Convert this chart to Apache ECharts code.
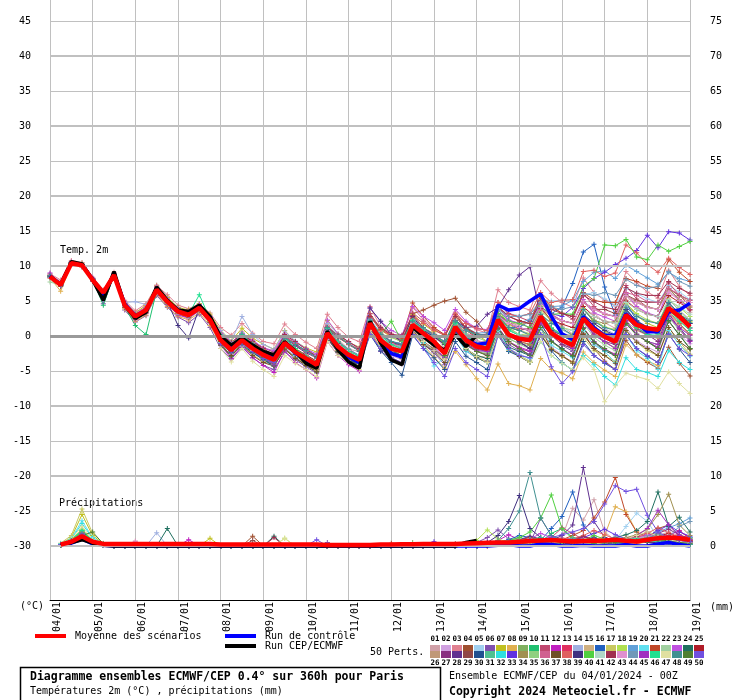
<!DOCTYPE html>
<html><head><meta charset="utf-8">
<script src="https://cdn.jsdelivr.net/npm/echarts@6/dist/echarts.min.js"></script>
<style>html,body{margin:0;padding:0;background:#fff}#c{width:740px;height:700px}</style>
</head><body><div id="c"></div>
<script>
const days = ['04/01','05/01','06/01','07/01','08/01','09/01','10/01','11/01','12/01','13/01','14/01','15/01','16/01','17/01','18/01','19/01'];
const runs = ['00Z','06Z','12Z','18Z'];
const memberColors = ['#d0a0a8','#d0a0e0','#e08090','#a05030','#a0d0f0','#8050b0','#c0c020','#e0b050','#80b060','#20c070','#c04870','#c020c0','#e03060','#a0b0e0','#d0b080','#2060c0','#c8c860','#b0e050','#60a0d8','#60e0f0','#c04828','#a0d0a0','#c050e0','#207060','#b01c28',
'#c09878','#883080','#603090','#904848','#205090','#50c090','#30e0e0','#6030e0','#a09050','#90d080','#d06090','#705028','#e06060','#403080','#50d040','#b0d8c8','#a03050','#e090d0','#7098b8','#a030c0','#20e090','#e0e0a0','#409090','#508030','#7050e0'];

// 2m temperature, 6-hourly 0h..360h
const meanTemp = [8.5,7.3,10.4,10.1,8.0,6.2,8.7,4.4,2.8,3.7,6.6,4.9,3.5,3.0,4.0,2.3,-0.6,-2.0,-0.6,-1.8,-2.7,-3.4,-1.0,-2.3,-3.2,-4.1,0.4,-1.5,-2.7,-3.4,1.8,-0.6,-1.8,-2.2,1.6,0.4,-0.8,-2.5,1.3,-0.6,-1.5,-1.8,2.3,0.2,-0.4,-0.6,2.8,0.4,-0.6,-1.3,2.5,0.9,-0.1,-0.8,3.0,1.6,1.1,0.9,4.0,2.8,1.3];
const ctrlTemp = [8.6,7.4,10.5,10.2,8.1,5.8,8.9,4.6,2.9,3.6,6.8,5.0,3.6,3.2,4.2,2.5,-0.4,-1.8,-0.5,-1.6,-2.5,-3.1,-1.0,-2.4,-3.5,-4.3,0.5,-1.7,-3.0,-3.8,1.9,-0.8,-2.5,-3.0,1.5,0.2,-1.0,-2.2,1.0,-0.5,-1.2,-1.0,4.4,3.7,3.9,5.0,6.0,2.8,0.3,-0.5,2.8,1.2,0.1,0.1,3.2,1.8,0.6,0.6,3.5,3.7,4.7];
const mainTemp = [8.5,7.3,10.6,10.3,8.0,5.1,9.2,4.4,2.5,3.4,7.0,5.1,3.7,3.5,4.4,2.8,-0.1,-1.3,-0.3,-1.3,-2.2,-2.7,-0.8,-2.2,-3.9,-4.6,0.7,-2.0,-3.7,-4.6,2.1,-1.0,-3.4,-4.1,1.3,-0.1,-1.3,-2.0,0.2,-1.5,0.1];

// precipitation (mm), 6-hourly 6h..360h
const meanPrecip = [0.2,0.6,1.4,0.6,0.3, 0.3,0.3,0.3,0.3,0.3,0.3,0.3,0.3, 0.3,0.3,0.2,0.2,0.2,0.2,0.2,0.2, 0.2,0.2,0.2,0.2,0.15,0.15,0.15,0.15, 0.15,0.2,0.2,0.25,0.25,0.3,0.3,0.3, 0.3,0.35,0.4,0.45,0.5,0.5,0.6,0.7,0.8,0.85,0.75,0.65,0.7,0.75,0.8,0.9,0.75,0.65,0.9,1.1,1.2,1.1,0.9];
const ctrlPrecip = [0.1,0.4,1.0,0.3,0.1, 0,0,0,0,0,0,0,0, 0,0,0,0,0,0,0,0, 0,0,0,0,0,0,0,0, 0,0,0,0,0,0,0,0, 0,0,0,0,0.1,0.2,0,0,0.3,0.2,0,0,0.1,0,0,0,0.2,0,0,0.3,0.5,0.2,0];
const mainPrecip = [0.1,0.5,0.9,0.4,0.1, 0,0,0,0,0,0,0,0, 0,0,0,0,0,0,0,0, 0,0,0,0,0,0,0,0, 0,0,0,0,0,0,0,0, 0,0.5,0.8];

const tempMembers = [
[8.7,7.5,10.6,10.3,8.2,6.4,8.9, 4.9,3.4,4.1,7.3,5.6,3.9,3.6,4.3,2.9, 0.3,-1.2,0.6,-0.9,-1.6,-2.4,0.2,-1.4,-2.1,-3.3,1.6,-0.4,-1.9,-2.2, 3.1,0.6,-0.8,-1.2,3.3,1.1,0.4,-1.8,2.4,0.3,-0.7,-0.9, 4.1,2.2,1.3,0.6,5.2,2.6,1.4,0.3,4.8,3.3,1.9,1.1,5.8,4.1,3.2,2.7,6.4,5.2,3.4],
[8.3,7.1,10.2,9.9,7.8,6.0,8.5, 4.0,2.2,3.3,6.0,4.4,3.1,2.4,3.6,1.8, -1.4,-2.6,-1.5,-2.4,-3.3,-4.1,-1.7,-2.9,-3.8,-4.7,-0.5,-1.9,-3.3,-3.6, 0.9,-1.7,-2.8,-3.4,0.6,-0.9,-2.2,-3.3,0.2,-1.8,-2.9,-3.1, 0.4,-1.8,-2.6,-3.2,1.1,-1.6,-2.7,-3.8,0.3,-1.2,-2.1,-2.8,1.2,-0.7,-1.6,-2.3,2.1,0.2,-1.1],
[8.9,8.0,10.8,10.5,8.4,6.6,9.1, 5.1,3.6,4.6,7.2,5.9,4.4,3.9,4.6,3.3, 1.2,0.1,1.8,0.4,-0.8,-1.1,1.7,0.2,-0.9,-1.8,3.1,1.2,-0.2,-0.8, 4.2,1.3,0.4,-0.3,4.1,2.3,1.2,0.1,3.4,1.8,0.9,0.4, 6.6,4.8,4.2,3.7,7.9,6.1,4.8,4.1,8.3,6.2,5.1,4.3,9.2,7.6,6.3,5.4,9.4,7.1,5.8],
[8.5,7.3,10.4,10.1,8.0,6.2,8.7, 4.1,2.5,3.3,6.3,4.6,3.2,2.7,3.8,2.0, -0.9,-2.4,-0.2,-2.1,-3.0,-3.3,-1.2,-2.6,-3.3,-4.3,0.8,-1.1,-2.3,-2.9, 2.3,0.1,-1.2,-1.1,3.2,3.7,4.4,5.0,5.4,3.4,2.1,0.2, 2.8,-0.8,-1.7,-2.8,1.2,-1.9,-2.9,-3.7,0.4,-1.8,-3.6,-4.8,-0.6,-2.7,-3.8,-4.6,-1.6,-3.9,-5.7],
[8.6,7.4,10.5,10.0,7.9,6.1,8.8, 4.7,3.1,4.0,6.9,5.2,3.8,3.3,4.4,2.6, 0.2,-1.6,0.3,-1.0,-2.2,-2.8,-0.3,-1.9,-2.8,-3.7,0.9,-0.8,-2.1,-2.7, 2.2,-0.1,-1.2,-1.7,2.3,0.9,-0.2,-1.3,2.1,0.8,0.1,0.3, 3.9,3.2,2.9,3.1,5.2,5.0,5.1,5.1,5.9,6.2,5.3,4.4,6.8,6.1,5.3,4.8,7.2,6.3,5.2],
[8.4,7.2,10.3,10.0,7.9,4.6,8.6, 3.7,2.0,2.9,5.8,4.1,2.7,1.9,3.1,1.2, -1.8,-3.3,-1.6,-3.1,-4.2,-4.8,-2.3,-3.4,-4.4,-5.3,-0.4,-2.4,-3.5,-4.4, 0.8,-2.2,-3.2,-4.0,0.3,-1.2,-2.4,-4.1,0.1,-2.1,-3.2,-3.6, 1.2,-1.2,-2.1,-2.6,2.1,0.2,-1.3,-2.2,2.7,0.8,-0.3,-1.2,3.8,2.1,1.2,0.8,4.3,2.6,1.1],
[8.7,7.6,10.6,10.4,8.1,6.4,8.8, 4.9,3.3,4.4,7.1,5.5,4.1,3.7,4.6,3.1, 0.8,-0.7,1.1,-0.3,-1.2,-1.9,0.8,-0.8,-1.7,-2.3,2.2,0.3,-0.9,-1.6, 3.2,0.9,-0.2,-0.8,3.1,1.7,0.6,-1.2,2.8,1.1,0.2,-0.8, 3.8,1.7,0.8,0.3,4.3,2.1,0.9,0.2,4.2,1.8,0.7,-0.2,4.8,2.9,1.8,1.2,5.3,3.6,2.1],
[8.3,6.4,10.2,9.9,7.8,5.9,8.5, 3.9,2.1,3.0,6.0,4.2,2.8,2.3,3.3,1.5, -1.2,-2.8,-1.1,-2.7,-3.6,-4.3,-1.8,-3.1,-4.0,-5.1,-0.3,-2.2,-3.4,-4.1, 0.9,-1.8,-3.1,-3.8,0.4,-1.3,-3.0,-4.6,-2.2,-4.1,-6.1,-7.7, -4.0,-6.8,-7.1,-7.7,-3.2,-4.8,-5.3,-6.1,-2.3,-3.8,-4.9,-5.8,-1.2,-2.7,-3.6,-4.2,0.8,-1.2,-2.8],
[8.6,7.2,10.5,10.2,8.1,6.3,8.7, 4.6,2.9,3.6,6.4,5.0,3.3,3.1,4.2,2.1, -0.8,-2.3,-0.2,-2.2,-3.1,-3.8,-1.3,-2.4,-3.3,-4.4,0.1,-1.8,-3.1,-3.8, 1.7,-0.8,-2.2,-2.4,1.6,0.2,-1.2,-2.8,0.8,-1.3,-2.2,-2.6, 2.0,-0.4,-1.1,-1.4,2.6,0.7,-0.2,-1.3,2.2,0.2,-0.9,-1.7,2.6,1.1,0.2,-0.3,3.6,1.8,0.3],
[8.4,7.4,10.3,10.0,8.0,4.4,8.8, 4.2,1.5,0.2,6.5,5.1,3.7,3.2,4.4,2.6, 0.1,-1.3,0.4,-1.1,-2.1,-2.9,-0.8,-1.9,-2.8,-3.6,0.9,-0.9,-2.2,-2.9, 2.3,0.2,-1.1,-1.8,2.1,0.8,-0.9,-2.1,1.9,-0.1,-1.2,-1.3, 2.7,0.9,0.1,-0.2,3.2,1.1,0.2,-0.9,3.1,1.3,0.3,-0.8,3.3,2.0,1.2,0.8,4.2,3.1,1.9],
[8.5,7.5,10.4,10.2,8.2,6.4,8.9, 4.8,3.1,4.1,7.0,5.3,4.0,3.3,4.4,2.7, 0.4,-0.9,0.3,-0.7,-1.7,-2.3,0.1,-1.1,-2.2,-2.8,1.4,0.1,-1.2,-1.9, 3.2,1.1,0.2,-0.6,3.3,2.1,0.9,0.1,3.1,1.8,1.1,0.8, 4.8,3.2,2.7,2.1,5.8,4.1,3.3,2.4,6.1,4.2,3.1,2.8,7.2,5.3,4.1,3.8,7.6,5.8,4.3],
[8.5,7.1,10.3,10.0,7.8,6.0,8.6, 4.1,2.4,3.3,6.2,4.5,3.0,2.6,3.6,1.9, -1.3,-3.2,-1.4,-3.1,-4.2,-5.2,-2.1,-3.8,-4.8,-6.0,-0.8,-2.8,-4.1,-5.0, 0.9,-1.2,-2.3,-3.1,1.1,-0.3,-1.4,-3.2,0.2,-1.3,-2.2,-2.7, 1.3,-0.8,-1.6,-2.1,1.8,-0.7,-1.8,-2.7,1.2,-0.8,-1.9,-2.6,2.1,0.3,-0.8,-1.6,2.8,0.9,-0.8],
[8.6,7.3,10.5,10.1,8.1,6.3,8.7, 4.6,2.7,3.5,6.7,5.0,3.6,2.9,4.1,2.1, -0.7,-2.3,-0.3,-2.1,-2.9,-3.2,-1.1,-2.1,-3.2,-4.2,0.7,-1.2,-2.8,-3.3, 2.1,-0.3,-1.9,-2.3,1.8,0.1,-1.1,-2.2,1.1,-0.8,-1.8,-2.1, 1.8,0.1,-0.8,-1.2,2.3,0.2,-0.7,-1.6,2.8,0.8,0.1,-0.7,3.2,1.2,0.3,-0.2,3.3,1.7,0.2],
[8.6,7.4,10.4,10.2,8.1,6.3,8.8, 4.8,4.9,4.5,6.8,5.3,3.9,3.4,4.3,2.6, 0.8,-0.8,2.8,0.2,-1.2,-1.9,0.7,-0.7,-1.8,-2.8,1.8,0.2,-1.3,-2.1, 2.4,0.1,-0.9,-1.3,2.2,1.0,-0.2,-1.1,1.8,0.3,-0.8,-0.9, 3.2,1.3,0.8,0.2,3.1,1.8,0.9,0.1,3.8,2.2,1.1,0.2,4.3,2.9,2.2,1.8,5.2,3.7,2.3],
[8.4,7.2,10.3,10.0,7.9,6.1,8.6, 4.1,2.5,3.4,6.4,4.6,3.2,2.7,3.7,1.9, -1.2,-2.9,-1.2,-2.3,-3.4,-4.2,-1.9,-3.1,-4.1,-4.9,-0.2,-2.1,-3.2,-4.1, 1.1,-1.1,-2.3,-3.1,0.9,-0.8,-2.1,-3.3,0.2,-1.8,-2.8,-3.1, 1.2,-0.9,-1.8,-2.2,1.9,0.1,-1.2,-1.9,2.1,0.2,-0.8,-1.8,2.2,0.8,0.1,-0.2,3.1,1.6,0.1],
[8.5,7.4,10.4,10.1,8.1,6.2,8.8, 4.5,2.9,3.8,6.7,5.0,3.6,3.1,4.1,2.4, -0.5,-2.1,-0.4,-1.9,-2.8,-3.2,-1.1,-2.2,-3.1,-3.9,0.3,-1.2,-2.6,-3.1, 1.9,-0.7,-1.9,-2.2,1.8,0.3,-0.9,-2.1,1.2,-0.7,-1.2,-1.6, 2.8,1.2,1.3,2.1,4.8,3.2,4.1,7.5,12.0,13.1,7.0,3.0,4.8,2.2,1.3,0.4,2.8,1.2,-0.6],
[8.6,7.3,10.5,10.1,8.0,6.2,8.7, 4.5,2.7,3.5,6.4,4.7,3.3,2.8,3.8,2.1, -1.1,-2.4,-1.0,-2.4,-3.3,-4.1,-1.4,-2.6,-3.9,-4.8,-0.2,-2.1,-3.1,-4.0, 1.2,-1.1,-2.4,-2.9,1.1,-0.7,-2.1,-3.2,0.1,-1.9,-2.9,-3.7, 0.2,-2.1,-2.8,-3.6,0.3,-1.8,-2.9,-3.8,-0.2,-2.1,-2.8,-3.6,0.8,-0.9,-2.1,-2.8,1.2,-0.8,-2.6],
[8.4,7.3,10.3,10.1,8.0,6.2,8.7, 4.4,3.0,3.9,6.8,5.2,3.8,3.3,4.2,2.5, 0.2,-1.6,0.2,-1.2,-2.1,-2.8,-0.7,-1.9,-2.8,-3.6,1.1,-0.8,-2.1,-2.8, 2.2,0.1,-1.1,-1.7,2.4,0.8,-0.6,-1.8,2.1,0.3,-0.8,-1.2, 3.1,1.2,0.2,0.3,3.7,2.1,1.2,0.8,3.9,2.3,1.3,0.9,4.7,3.2,2.3,1.8,5.1,4.1,2.8],
[8.5,7.2,10.4,10.1,8.0,6.2,8.7, 4.3,2.7,3.7,6.5,4.8,3.4,3.0,3.9,2.2, -0.7,-1.9,-0.8,-2.0,-2.6,-3.1,-0.8,-2.1,-2.9,-3.8,0.8,-1.1,-2.3,-3.0, 2.4,0.4,-0.8,-1.6,2.3,1.1,0.1,-1.2,2.1,1.2,0.4,0.5, 3.7,2.2,1.8,2.4,5.1,4.2,4.3,5.1,7.8,9.1,9.3,8.2,10.1,9.2,8.3,7.4,9.1,8.2,7.8],
[8.5,7.3,10.4,10.0,7.9,6.1,8.7, 4.2,2.6,3.6,6.4,4.8,3.3,2.9,3.8,2.1, -1.1,-2.4,-1.3,-2.4,-3.4,-4.3,-1.3,-2.8,-3.9,-4.8,-0.3,-2.2,-3.4,-4.3, 1.2,-1.3,-2.3,-3.2,0.9,-1.1,-4.3,-3.1,0.1,-2.2,-3.1,-3.8, 0.8,-1.8,-2.7,-3.2,1.1,-1.3,-2.2,-3.1,0.8,-1.3,-2.2,-3.8,0.2,-2.1,-3.2,-4.8,0.8,-1.2,-2.9],
[8.6,7.4,10.5,10.2,8.1,6.3,8.8, 4.6,3.0,3.9,6.8,5.1,3.7,3.2,4.2,2.5, 0.1,-1.2,0.2,-0.8,-1.9,-2.7,-0.2,-1.3,-2.2,-3.1,1.2,-0.2,-1.2,-2.1, 2.8,0.9,0.1,-0.3,4.7,2.8,1.2,0.2,3.1,1.2,0.3,0.1, 4.2,2.8,2.1,1.8,5.8,4.3,3.2,2.8,6.2,5.1,4.8,4.8,8.2,7.8,7.1,6.8,10.9,9.1,7.8],
[7.7,7.3,10.5,10.1,8.1,6.2,8.7, 4.5,2.8,3.8,6.6,4.9,3.5,3.0,4.0,2.3, -0.4,-2.1,0.1,-1.9,-2.8,-3.3,-0.9,-2.3,-3.2,-3.9,-0.1,-1.4,-2.4,-3.3, 1.6,-0.9,-2.1,-2.3,1.2,-0.1,-1.3,-2.3,0.8,-1.1,-2.2,-2.4, 1.8,-0.2,-1.2,-1.8,2.1,0.1,-0.8,-1.9,1.8,-0.2,-1.3,-2.1,2.2,0.3,-0.8,-1.2,2.7,0.8,-0.3],
[8.7,7.5,10.6,10.3,8.3,6.4,8.9, 4.9,3.2,4.1,7.0,5.3,3.9,3.5,4.5,2.8, 0.4,-0.9,0.4,-0.6,-1.7,-2.1,0.3,-0.9,-1.8,-2.6,2.3,0.3,-0.9,-1.7, 4.0,2.1,0.8,0.1,4.2,2.8,1.9,0.8,3.8,2.1,1.1,0.9, 4.3,2.3,1.8,1.2,4.8,3.1,2.2,1.8,5.2,3.3,2.7,2.1,6.1,4.2,3.3,2.8,6.8,5.1,3.8],
[8.4,7.2,10.2,10.0,7.9,6.1,8.6, 4.2,2.5,3.5,6.4,4.7,3.3,2.8,3.8,2.0, -1.3,-2.9,-1.2,-2.4,-3.3,-4.2,-1.8,-3.1,-4.2,-5.1,-0.1,-2.2,-3.3,-4.2, 1.2,-1.2,-2.1,-3.1,1.2,-0.9,-2.2,-3.1,0.3,-1.9,-2.8,-3.2, 1.1,-1.6,-2.2,-2.8,1.8,-0.7,-1.8,-2.9,1.1,-0.9,-2.1,-2.8,1.8,0.2,-0.8,-1.8,2.2,0.1,-1.8],
[8.5,7.4,10.4,10.2,8.1,6.3,8.8, 4.6,3.0,3.9,6.8,5.0,3.6,3.1,4.1,2.4, -0.1,-1.7,0.2,-1.3,-2.3,-3.1,-0.2,-1.8,-2.7,-3.6,1.1,-0.9,-2.2,-2.8, 2.1,0.3,-0.9,-1.3,2.1,0.9,-0.1,-1.2,2.2,0.8,-0.2,0.1, 3.2,1.8,1.1,0.8,3.9,2.3,1.7,1.2,4.2,2.8,2.1,1.8,5.1,3.8,3.1,2.8,5.8,4.8,3.7],
[8.3,7.1,10.2,9.9,7.8,6.0,8.5, 4.2,2.5,3.4,6.4,4.7,3.3,2.8,3.8,2.1, -0.8,-2.2,-0.9,-2.1,-3.0,-3.9,-1.2,-2.4,-3.4,-4.2,0.7,-1.2,-2.4,-3.1, 1.9,-0.2,-1.3,-2.1,1.8,0.3,-1.1,-2.2,1.4,0.1,-0.9,-0.8, 2.9,1.8,1.7,1.9,4.1,2.8,2.1,1.9,4.8,3.8,3.1,2.8,5.8,4.9,4.2,3.8,6.8,5.7,4.8],
[8.6,7.4,10.5,10.2,8.1,6.3,8.8, 4.5,2.7,3.6,6.5,4.8,3.4,2.9,3.9,2.2, -0.9,-2.3,-0.1,-2.2,-3.1,-3.9,-1.1,-2.6,-3.4,-4.4,0.2,-1.9,-3.1,-3.9, 1.3,-1.2,-2.1,-2.8,1.1,-0.8,-1.9,-3.1,0.9,-1.1,-1.9,-2.2, 1.8,0.2,-0.9,-1.8,2.1,0.1,-1.2,-1.8,2.2,0.3,-0.8,-1.2,2.8,0.9,0.2,-0.8,3.2,1.1,-0.6],
[8.5,7.3,10.4,10.1,8.0,6.2,8.7, 4.6,3.0,3.8,6.7,5.0,3.6,3.1,4.1,2.5, -0.2,-1.3,-0.1,-1.2,-2.2,-2.9,-0.3,-1.4,-2.4,-3.1,0.9,-0.2,-1.1,-2.2, 2.2,0.1,-1.1,-1.1,2.1,0.9,-0.1,-1.1,2.2,1.2,1.4,3.1, 4.1,6.6,8.7,9.9,2.8,1.1,0.1,-0.8,2.9,1.2,0.2,-0.7,3.8,2.1,1.2,0.8,4.7,3.1,1.8],
[8.4,7.2,10.3,10.0,7.9,6.1,8.6, 4.3,2.6,3.5,6.3,4.7,3.3,2.8,3.8,2.1, -0.8,-2.2,-0.7,-1.9,-2.9,-3.8,-1.1,-2.1,-3.1,-3.9,0.3,-1.2,-2.1,-3.2, 1.9,0.1,-1.2,-1.8,2.2,0.8,-0.7,-2.1,1.8,0.1,-0.8,-1.2, 2.8,1.2,0.8,1.1,4.1,2.8,2.2,1.8,4.9,3.8,3.8,3.2,5.9,5.1,4.8,4.8,6.8,5.8,5.1],
[8.6,7.3,10.4,10.2,8.1,6.2,8.8, 4.4,2.8,3.6,6.6,4.9,3.4,2.9,3.9,2.2, -1.1,-2.4,-0.2,-2.3,-3.4,-4.3,-1.4,-2.6,-3.6,-4.4,-0.3,-2.3,-3.4,-4.3, 0.2,-2.1,-3.8,-5.6,0.1,-1.8,-3.1,-4.8,-0.8,-2.9,-3.8,-4.8, 0.1,-2.2,-2.9,-3.8,0.2,-2.1,-3.8,-4.9,-0.8,-2.8,-3.9,-4.8,0.2,-1.8,-2.9,-3.8,0.3,-1.9,-3.8],
[8.5,7.4,10.4,10.1,8.0,6.3,8.7, 4.5,3.1,3.9,6.8,5.0,3.5,3.0,4.1,2.4, 0.1,-1.8,-0.2,-1.7,-2.8,-3.1,-0.9,-2.1,-3.1,-3.9,0.8,-1.2,-2.2,-3.1, 2.1,-0.2,-1.3,-2.1,1.9,0.2,-1.1,-2.2,1.2,0.1,-0.9,-1.1, 2.2,0.8,0.2,-0.1,3.1,1.2,0.1,-0.2,2.9,1.1,0.2,-0.3,3.8,2.1,1.1,0.8,4.2,2.8,1.2],
[8.5,7.2,10.3,10.0,7.9,6.1,8.7, 4.4,2.7,3.7,6.6,4.9,3.4,2.9,3.9,2.2, -0.9,-2.2,-1.1,-2.2,-3.1,-4.1,-1.2,-2.2,-3.3,-4.1,-0.1,-1.8,-2.9,-3.9, 1.1,-1.2,-2.2,-2.9,1.2,-0.9,-2.1,-3.1,0.1,-1.8,-3.1,-3.8, 0.2,-1.9,-2.8,-3.8,-0.8,-2.8,-3.9,-4.8,-2.8,-4.1,-5.8,-7.0,-3.1,-4.8,-5.2,-5.8,-2.1,-3.8,-4.8],
[8.6,7.4,10.5,10.2,8.1,6.3,8.8, 4.5,2.9,3.8,6.7,5.0,3.6,3.1,4.1,2.4, -0.2,-1.2,0.2,-1.1,-2.1,-2.8,-0.1,-1.2,-2.1,-3.1,1.1,-0.8,-1.9,-2.8, 2.2,0.2,-0.8,-1.1,2.1,1.1,0.1,-0.8,2.1,0.8,0.1,0.2, 3.1,1.8,1.2,0.8,4.1,3.2,2.8,4.1,6.8,8.2,9.1,10.2,11.1,12.2,14.4,12.6,14.9,14.7,13.7],
[8.4,7.2,10.3,10.0,7.9,6.1,8.6, 4.3,2.6,3.5,6.4,4.7,3.3,2.8,3.8,2.1, -1.2,-2.8,-1.1,-2.2,-3.2,-4.1,-1.8,-3.1,-4.1,-4.8,0.1,-2.1,-3.1,-3.8, 1.2,-1.2,-2.1,-2.8,1.2,-0.8,-1.8,-3.2,0.8,-1.2,-2.1,-2.8, 1.8,0.1,-0.8,-1.2,3.1,1.2,0.2,0.1,3.8,2.2,1.8,2.1,5.8,4.8,4.1,3.8,6.8,5.2,4.1],
[8.6,7.4,10.5,10.1,8.1,6.3,8.8, 4.6,3.0,3.9,6.8,5.1,3.7,3.2,4.2,2.5, 0.2,-1.1,0.1,-0.9,-2.1,-2.8,-0.2,-1.2,-2.1,-3.2,1.2,0.1,-1.1,-2.1, 2.2,0.3,-0.2,-0.8,2.1,0.9,-0.1,-1.2,1.8,0.2,-0.2,-0.8, 2.8,1.1,0.2,-0.1,3.2,1.2,0.1,-0.8,2.8,1.1,0.1,-0.9,3.2,1.8,0.9,0.2,3.8,2.2,0.8],
[8.5,7.3,10.4,10.1,8.0,6.2,8.7, 4.4,2.8,3.7,6.6,4.9,3.5,3.0,4.0,2.3, -0.6,-1.9,-0.7,-1.9,-2.8,-3.1,-0.8,-2.2,-2.9,-3.8,0.7,-1.1,-2.2,-2.9, 2.1,0.2,-0.8,-1.9,1.9,0.8,-0.2,-1.2,2.1,0.2,0.1,0.2, 3.1,1.8,1.1,0.9,3.8,3.1,2.2,1.8,4.8,3.9,3.2,2.8,6.2,5.8,4.9,4.8,6.8,5.9,5.1],
[8.4,7.1,10.2,9.9,7.8,6.0,8.5, 4.1,2.5,3.4,6.3,4.6,3.2,2.7,3.7,2.0, -1.3,-2.8,-1.2,-2.8,-3.8,-4.3,-1.9,-3.2,-4.2,-5.1,-0.3,-2.3,-3.2,-4.2, 1.1,-1.2,-2.2,-3.2,0.9,-1.2,-2.2,-3.8,0.2,-1.8,-3.1,-3.8, 0.2,-1.8,-2.9,-3.8,0.1,-1.9,-2.8,-3.9,0.2,-1.8,-2.8,-3.9,0.8,-0.9,-1.8,-2.8,1.2,-0.8,-1.9],
[8.6,7.3,10.5,10.2,8.1,6.3,8.7, 4.5,2.9,3.8,6.7,5.0,3.6,3.1,4.1,2.4, 0.1,-1.2,0.1,-0.9,-1.9,-2.8,-0.1,-1.1,-2.2,-3.1,1.1,-0.1,-1.2,-1.9, 2.8,0.8,0.1,-0.8,2.9,1.8,0.8,0.1,3.1,1.8,1.1,0.8, 4.8,3.1,2.8,3.2,6.2,4.8,5.1,5.2,9.2,9.4,8.5,9.0,13.0,11.9,10.2,9.1,11.1,9.8,8.8],
[8.5,7.3,10.4,10.0,8.0,6.2,8.7, 4.4,2.8,3.7,6.6,4.9,1.5,-0.3,4.0,2.3, -0.8,-2.1,0.1,-1.8,-2.8,-3.2,-1.1,-2.1,-3.1,-3.8,0.8,-1.1,-2.2,-2.8, 4.0,2.1,0.2,-0.8,2.8,0.8,-0.1,-1.2,1.8,0.1,-1.1,-1.2, 2.1,0.1,-0.8,-1.8,2.2,0.8,0.1,-0.1,3.1,1.8,0.8,0.1,3.8,2.1,1.2,0.8,4.8,3.2,1.8],
[8.5,7.3,10.4,10.1,8.0,6.2,8.7, 4.4,2.8,3.7,6.6,4.9,3.5,3.0,4.0,2.3, 0.2,-1.8,0.1,-1.7,-2.7,-3.2,-0.8,-2.1,-3.1,-3.8,1.2,-0.8,-1.9,-2.9, 2.1,0.2,2.1,-0.8,2.2,1.1,0.2,-1.1,2.1,0.8,0.1,0.1, 3.2,2.1,1.8,1.2,4.2,3.1,3.2,3.1,7.1,8.2,13.0,12.9,13.8,11.3,10.9,13.0,12.1,12.8,13.5],
[8.4,7.2,10.3,10.0,7.9,6.1,8.6, 4.3,2.7,3.6,6.5,4.8,3.4,2.9,3.9,2.2, -0.9,-2.2,-0.8,-2.1,-3.1,-3.8,-1.2,-2.2,-3.1,-4.1,0.2,-1.2,-2.1,-3.1, 1.3,-0.1,-1.2,-2.1,1.8,0.2,-1.1,-2.1,1.2,0.1,-0.9,-1.1, 2.2,0.8,0.2,-0.2,3.2,1.8,1.1,0.8,3.8,2.8,2.1,1.8,4.8,3.8,3.1,2.8,5.1,4.2,3.1],
[8.6,7.4,10.5,10.2,8.1,6.3,8.8, 4.6,3.0,3.9,6.8,5.1,3.7,3.2,4.2,2.5, 0.2,-0.9,0.2,-0.8,-1.8,-2.7,0.2,-0.8,-1.9,-2.9,1.2,0.1,-0.8,-1.8, 2.8,1.2,0.2,0.1,2.9,1.2,0.2,-0.1,2.8,1.1,0.2,0.1, 4.1,2.8,2.2,1.8,5.1,3.8,3.2,2.8,5.8,4.9,4.1,3.8,6.9,6.1,5.8,5.8,7.8,6.8,6.1],
[8.5,7.3,10.4,10.1,8.0,6.2,8.7, 4.4,2.8,3.7,6.6,4.9,3.5,3.0,4.0,2.3, 0.1,-1.8,0.2,-1.8,-2.7,-3.1,-0.8,-2.2,-2.9,-3.8,0.8,-1.2,-2.1,-2.8, 1.8,0.2,-1.1,-1.8,2.2,0.8,-0.9,-1.8,1.8,0.2,-0.8,-0.9, 2.8,1.8,1.2,0.8,4.1,2.8,2.2,1.8,4.9,3.8,3.2,2.8,5.8,4.8,4.1,3.8,6.2,5.1,4.8],
[8.6,7.3,10.4,10.1,8.1,6.2,8.7, 4.5,2.9,3.8,6.7,5.0,3.6,3.1,4.1,2.4, 0.2,-1.2,0.2,-1.1,-2.2,-2.8,-0.2,-1.2,-2.1,-3.2,1.1,-0.8,-1.9,-2.8, 2.2,0.1,-0.8,-1.1,2.2,1.1,0.2,-0.8,2.1,0.8,0.2,0.1, 3.8,2.8,2.8,3.1,4.8,4.1,3.8,4.2,6.1,5.8,6.2,5.8,8.1,7.2,6.8,7.1,9.2,7.8,7.1],
[9.0,7.2,10.3,10.0,7.9,6.1,8.6, 4.3,2.7,3.6,6.5,4.8,3.4,2.9,3.9,2.2, -1.1,-2.2,-0.8,-2.2,-3.1,-4.1,-1.1,-2.2,-3.1,-4.2,0.1,-1.8,-3.1,-3.8, 1.1,-0.8,-2.2,-2.8,1.2,-0.8,-2.1,-3.1,0.8,-1.1,-2.1,-2.2, 1.2,-0.8,-1.8,-2.2,1.8,0.2,-0.8,-1.8,2.1,0.1,-0.8,-1.8,2.2,0.2,-0.8,-1.2,2.8,1.2,0.1],
[8.5,7.4,10.4,10.2,8.1,6.3,8.8, 4.5,2.9,3.8,6.7,5.0,3.6,3.1,5.9,2.4, 0.1,-1.6,0.2,-1.2,-2.2,-2.8,-0.2,-1.8,-2.9,-3.8,1.1,-0.9,-2.2,-2.8, 2.1,0.1,-1.2,-1.8,2.2,0.8,-0.8,-2.2,1.8,0.1,-1.1,-1.2, 2.2,0.8,0.1,-0.8,2.8,1.1,0.2,-0.8,2.8,1.1,0.1,-0.8,3.1,1.2,0.2,0.1,3.8,2.1,0.8],
[8.4,7.2,10.3,10.0,7.9,6.1,8.6, 4.2,2.6,3.5,6.4,4.7,3.3,2.8,3.8,2.1, -1.8,-3.7,-1.8,-3.6,-4.8,-5.8,-2.8,-3.9,-4.8,-5.8,-0.8,-2.8,-3.8,-4.8, 0.8,-1.2,-2.3,-3.1,1.1,-0.8,-2.1,-3.3,0.2,-1.8,-2.9,-3.8, 0.1,-1.8,-2.8,-3.8,-0.8,-2.8,-3.9,-4.8,-3.1,-4.8,-9.4,-7.1,-5.3,-5.8,-6.2,-7.5,-5.1,-6.8,-8.2],
[8.6,7.4,10.5,10.2,8.1,6.3,8.8, 4.5,2.9,3.8,6.7,5.0,3.6,3.1,4.1,2.4, -0.1,-1.3,0.1,-1.2,-2.1,-2.8,-0.2,-1.2,-2.1,-3.1,1.2,-0.1,-1.1,-2.1, 2.1,0.2,-0.8,-1.2,2.1,1.2,0.1,-0.8,2.1,0.9,0.2,0.1, 2.8,1.2,0.8,0.1,3.1,1.8,1.1,0.1,3.8,2.1,1.2,0.8,4.1,2.8,2.1,1.8,4.8,3.1,2.2],
[8.5,7.3,10.4,10.1,8.0,6.2,8.7, 4.4,2.8,3.7,6.6,4.9,3.5,3.0,4.0,2.3, -0.8,-2.2,-0.9,-2.2,-3.1,-3.8,-1.2,-2.1,-3.1,-4.2,0.1,-1.8,-2.9,-3.8, 1.2,-0.8,-2.1,-2.8,1.1,0.1,-1.2,-2.8,0.8,-1.2,-2.2,-2.8, 1.1,-0.8,-1.8,-2.8,1.2,-0.8,-1.9,-2.8,1.1,-0.9,-1.8,-2.8,1.8,0.1,-0.8,-1.8,2.1,0.2,-1.8],
[8.4,7.2,10.3,10.0,7.9,6.1,8.6, 4.3,2.7,3.6,6.5,4.8,3.4,2.9,3.9,2.2, -1.1,-2.2,-1.1,-2.2,-3.2,-3.8,-1.1,-2.2,-3.2,-4.1,-0.1,-1.9,-3.1,-3.8, 0.2,-1.8,-3.1,-3.8,0.2,-1.8,-3.8,-5.8,-1.8,-3.8,-4.8,-5.8, 0.1,-1.8,-2.8,-3.1,0.2,-4.4,-6.8,-5.1,-1.2,-2.8,-3.8,-4.8,0.2,-1.8,-2.8,-3.8,0.2,-1.8,-2.8]
];

const precipMembers = [
[0.2,0.8,1.6,0.6,0.2, 0,0,0.7,0,0,0,0,0, 0,0,0,0,0,0,0,0, 0,0,0,0,0,0,0,0, 0,0,0,0,0,0,0,0, 0,0,0.2,0.5,0.3,0.2,0.6,1.0,0.8,0.5,1.2,5.4,3.7,6.6,2.0,0.8,0.5,0.3,1.0,1.5,2.0,1.2,0.8],
[0.1,0.5,1.2,0.4,0.1, 0,0,0,0,0,0,0,0, 0,0,0,0,0,0,0,0, 0,0,0,0,0,0,0,0, 0,0,0,0,0,0,0,0, 0,0,0,0.2,0.4,0.3,0.2,0.5,0.3,0.2,0.4,0.6,0.8,0.5,0.3,0.2,0.4,0.8,1.2,0.6,0.4,0.3,0.2],
[0.3,0.9,2.0,0.7,0.2, 0,0,0,0,0,0,0,0, 0,0,0,0,0,0,0,0, 0,0,0,0,0,0,0,0, 0,0,0,0,0,0,0,0, 0,0,0,0,0.3,0.2,0.4,0.2,0.8,1.5,1.0,0.6,0.4,0.8,1.2,0.8,0.5,0.4,0.6,1.1,1.8,1.3,0.9],
[0.2,0.6,1.4,0.5,0.1, 0,0,0,0,0,0,0,0, 0,0,0,0,0,1.4,0,0, 0,0,0,0,0,0,0,0, 0,0,0,0,0,0,0,0, 0.3,0.2,0.1,0,0.2,0.5,0.8,0.4,0.2,0.3,0.6,0.4,0.3,0.2,0.4,0.6,0.8,0.5,1.0,2.5,3.0,1.5,0.8],
[0.1,0.7,1.8,0.6,0.1, 0,0,0,0,0,0,0,0, 0,0,0,0,0,0,0,0, 0,0,0,0,0,0,0,0, 0,0,0,0,0,0,0,0, 0,0,0,0.1,0.3,0.5,0.4,0.6,0.3,0.4,0.8,1.2,0.9,0.6,0.5,0.8,2.8,4.7,3.5,1.2,0.8,0.5,0.4],
[0.2,0.8,1.9,0.7,0.2, 0,0,0,0,0,0,0,0, 0,0,0,0,0,0,0,0, 0,0,0,0,0.5,0,0,0, 0,0,0,0,0,0,0,0, 0,0,0.5,1.2,2.3,1.0,0.4,0.3,4.0,1.5,0.6,0.3,0.4,0.5,0.3,0.6,0.8,1.0,1.5,0.8,0.5,0.4,0.3],
[0.3,1.2,4.5,1.5,0.3, 0,0,0,0,0,0,0,0, 0,1.1,0,0,0,0,0,0, 0,0,0,0,0,0,0,0, 0,0,0,0,0,0,0,0, 0,0,0,0.2,0.4,0.2,0.3,0.5,0.4,0.3,0.2,0.4,0.6,0.5,0.3,0.4,0.2,0.6,0.9,0.5,0.4,0.3,0.2],
[0.1,0.6,1.5,0.5,0.1, 0,0,0,0,0,0,0,0, 0,0,0,0,0,0,0,0, 0,0,0,0,0,0,0,0, 0,0,0,0,0,0,0,0, 0,0,0,0.3,0.6,0.4,0.2,0.3,0.5,0.4,0.6,0.8,1.0,0.7,1.5,5.6,4.9,2.0,1.2,0.8,0.6,0.4,0.3],
[0.2,0.7,1.7,0.6,0.2, 0,0,0,0,0,0,0,0, 0,0,0,0,0,0,0,0, 0,0,0,0,0,0,0,0, 0,0,0,0,0.5,0,0,0, 0,0,0,0.2,0.3,0.6,0.9,0.5,0.3,0.4,0.6,0.5,0.8,1.2,0.7,0.4,0.5,0.6,0.9,1.3,1.0,0.6,0.5],
[0.2,0.9,2.2,0.8,0.2, 0,0,0,0,0,0,0,0, 0,0,0,0,0,0,0,0, 0,0,0,0,0,0,0,0, 0,0,0,0,0,0,0,0, 0,0,0.1,0.3,0.5,0.8,1.2,0.9,0.6,1.8,2.5,1.0,0.6,0.4,0.3,0.5,0.7,0.8,1.2,1.6,0.9,0.6,0.4],
[0.1,0.5,1.3,0.5,0.1, 0,0,0,0,0,0,0,0, 0,0,0,0,0,0,0,0, 0,0,0,0,0,0,0,0, 0,0,0,0,0,0,0,0, 0,0,0,0,0.2,0.3,0.5,0.4,0.8,1.2,2.6,1.8,0.9,0.6,0.4,0.3,0.5,0.6,0.8,1.0,1.4,0.9,0.6],
[0.2,0.8,1.6,0.6,0.1, 0,0,0,0,0,0,0,0.9, 0,0,0,0,0,0,0,0, 0,0,0,0,0,0,0,0, 0,0,0,0,0,0,0,0, 0,0,0,0.3,0.8,1.6,0.9,0.5,0.4,0.6,0.5,0.3,0.4,0.6,0.8,0.5,0.3,0.4,0.6,0.8,1.5,2.2,1.0],
[0.1,0.6,1.4,0.4,0.1, 0,0,0,0,0,0,0,0, 0,0,0,0,0,0,0,0, 0,0,0,0,0,0,0,0, 0,0,0,0,0,0,0,0, 0,0,0,0.2,0.4,0.3,0.5,0.8,0.6,0.4,0.3,0.5,0.7,0.6,0.4,0.3,0.6,0.9,1.3,0.8,0.6,2.1,1.2],
[0.2,0.7,1.8,0.6,0.2, 0,0,0,0,1.9,0,0,0, 0,0,0,0,0,0,0,0, 0,0,0,0,0,0,0,0, 0,0,0,0,0,0,0,0, 0,0,0,0.1,0.2,0.4,0.6,0.5,0.3,0.6,0.9,0.7,0.5,0.3,0.2,0.4,0.6,0.5,0.8,1.0,0.7,0.5,0.4],
[0.2,0.8,2.0,0.7,0.2, 0,0,0,0,0,0,0,0, 0,0,0,0,0,0,0,0, 0,0,0,0,0,0,0,0, 0,0,0,0,0,0,0,0, 0,0,0,0.2,0.3,0.5,0.4,0.6,0.9,1.2,0.8,0.5,0.6,0.8,0.5,0.4,0.6,0.8,1.1,0.9,0.7,0.5,0.4],
[0.1,0.6,1.5,0.5,0.1, 0,0,0,0,0,0,0,0, 0,0,0,0,0,0,0,0, 0,0,0,0,0,0,0,0, 0,0,0,0,0,0,0,0, 0,0,0,0.2,0.5,0.9,1.5,1.2,0.8,2.5,4.2,7.7,3.0,1.2,0.6,0.4,0.3,0.5,0.8,0.6,0.4,0.3,0.2],
[0.4,1.5,5.3,1.8,0.4, 0,0,0,0,0,0,0,0, 0,0,0,0,0,0,0,0, 0,0,0,0,0,0,0,0, 0,0,0,0,0,0,0,0, 0,0,0,0.1,0.2,0.3,0.2,0.4,0.3,0.2,0.4,0.5,0.3,0.2,0.4,0.6,0.5,0.3,0.6,0.8,0.5,0.4,0.3],
[0.2,0.9,2.4,0.8,0.2, 0,0,0,0,0,0,0,0, 0,0,0,0,0,0,0,0, 1.1,0,0,0,0,0,0,0, 0,0,0,0,0,0,0,0, 0,0,0.8,2.3,1.0,0.5,0.3,0.4,0.6,0.5,0.3,0.4,0.6,0.8,0.5,0.3,0.4,0.6,0.9,1.4,1.0,0.7,0.5],
[0.1,0.5,1.3,0.5,0.1, 0,0,0,0,0,0,0,0, 0,0,0,0,0,0,0,0, 0,0,0,0,0,0,0,0, 0,0,0,0,0,0,0,0, 0,0,0,0.2,0.3,0.4,0.6,0.8,0.5,0.4,0.6,0.9,1.3,0.8,0.5,0.6,0.8,1.0,1.5,2.0,2.6,3.2,4.0],
[0.3,1.1,3.6,1.2,0.3, 0,0,0,0,0,0,0,0, 0,0,0,0,0,0,0,0, 0,0,0,0,0,0,0,0, 0,0,0,0,0,0,0,0, 0,0,0,0.2,0.3,0.5,0.4,0.3,0.5,0.7,0.5,0.4,0.3,0.5,0.6,0.4,0.3,0.5,0.7,0.9,0.6,0.4,0.3],
[0.2,0.7,1.7,0.6,0.2, 0,0,0,0,0,0,0,0, 0,0,0,0,0,0,0,0, 0,0,0,0,0,0,0,0, 0,0,0.4,0,0,0,0,0, 0,0,0,0.2,0.4,0.6,0.9,1.2,0.8,0.6,0.9,1.5,2.2,4.0,6.3,9.8,4.5,2.0,1.2,0.8,1.0,1.5,1.2],
[0.2,0.6,1.5,0.5,0.1, 0,0,0,0,0,0,0,0, 0,0,0,0,0,0,0,0, 0,0,0,0,0,0,0,0, 0,0,0,0,0,0,0,0, 0,0,0,0.1,0.2,0.3,0.5,0.4,0.3,0.5,0.4,0.3,0.5,0.7,0.5,0.4,0.3,0.5,0.8,0.6,0.5,0.4,0.3],
[0.2,0.8,1.9,0.7,0.2, 0,0,0,0,0,0,0,0, 0,0,0,0,0,0,0,0, 0,0,0,0,0,0,0,0, 0,0,0,0,0,0,0,0, 0,0,0,0.3,0.5,0.8,0.6,1.0,1.8,1.2,0.6,0.4,0.6,0.9,0.7,0.5,0.8,1.2,1.6,1.0,0.8,0.6,0.5],
[0.2,0.7,1.6,0.6,0.2, 0,0,0,0,0,2.5,0,0, 0,0,0,0,0,0,0,1.4, 0,0,0,0,0,0,0,0, 0,0,0,0,0,0,0,0, 0,0,0,0.2,0.4,0.3,0.5,0.7,0.6,0.4,0.5,0.8,0.6,0.5,0.8,1.2,1.6,2.2,3.5,7.7,2.8,4.1,2.0],
[0.1,0.6,1.4,0.5,0.1, 0,0,0,0,0,0,0,0, 0,0,0,0,0,0,0,0, 0,0,0,0,0,0,0,0, 0,0,0,0,0,0,0,0, 0,0,0,0.2,0.3,0.4,0.6,0.5,0.4,0.6,0.8,0.6,0.4,0.5,0.7,0.6,0.5,0.8,1.0,1.4,1.8,1.2,0.8],
[0.2,0.8,1.8,0.6,0.2, 0,0,0,0,0,0,0,0, 0,0,0,0,0,0,0,0, 0,0,0,0,0,0,0,0, 0,0,0,0,0,0,0,0, 0,0,0,0.1,0.3,0.5,0.4,0.6,0.9,0.7,0.5,0.4,0.6,0.8,0.6,0.5,0.7,0.9,1.2,0.8,0.6,0.5,0.4],
[0.2,0.7,1.7,0.6,0.1, 0,0,0,0,0,0,0,0, 0,0,0,0,0,0,0,0, 0,0,0,0,0,0,0,0, 0,0,0,0,0,0,0,0, 0,0,0,0.2,0.4,0.6,0.8,0.6,0.4,0.5,0.7,1.0,1.4,0.9,0.6,0.5,0.7,0.9,1.1,1.8,2.4,1.6,1.0],
[0.2,0.8,1.9,0.7,0.2, 0,0,0,0,0,0,0,0, 0,0,0,0,0,0,0,0, 0,0,0,0,0,0,0,0, 0,0,0,0,0,0,0,0, 0,0,0,0.2,0.3,0.5,0.9,1.4,1.0,0.8,1.5,3.0,11.2,3.5,1.2,0.8,0.6,0.5,0.7,0.9,0.6,0.5,0.4],
[0.1,0.6,1.3,0.5,0.1, 0,0,0,0,0,0,0,0, 0,0,0,0,0,0.8,0,0, 0,0,0,0,0,0,0,0, 0,0,0,0,0,0,0,0, 0.2,0,0,0.1,0.2,0.4,0.3,0.5,0.4,0.3,0.5,0.7,0.5,0.4,0.6,0.8,1.1,0.8,0.6,0.5,1.4,0.9,0.6],
[0.1,0.5,1.2,0.4,0.1, 0,0,0,0,0,0,0,0, 0,0,0,0,0,0,0,0, 0,0,0,0,0,0,0,0, 0,0,0,0,0,0,0,0, 0,0,0,0.1,0.2,0.3,0.5,0.4,0.3,0.4,0.6,0.5,0.3,0.4,0.5,0.3,0.4,0.6,0.8,0.5,0.4,0.3,0.2],
[0.2,0.8,2.1,0.7,0.2, 0,0,0,0,0,0,0,0, 0,0,0,0,0,0,0,0, 0,0,0,0,0,0,0,0, 0,0,0,0,0,0,0,0, 0,0,0,0.2,0.4,0.6,0.8,0.7,0.5,0.6,0.8,0.6,0.5,0.7,0.9,0.6,0.5,0.7,1.0,1.3,0.9,0.7,0.5],
[0.3,1.0,3.2,1.1,0.3, 0,0,0,0,0,0,0,0, 0,0,0,0,0,0,0,0, 0,0,0,0,0,0,0,0, 0,0,0,0,0,0,0,0, 0,0,0,0.2,0.3,0.5,0.6,0.9,0.7,0.5,0.4,0.3,0.5,0.6,0.4,0.3,0.5,0.7,0.9,0.6,0.5,0.8,1.2],
[0.2,0.7,1.6,0.6,0.2, 0,0,0,0,0,0,0,0, 0,0,0,0,0,0,0,0, 0,0,0,0,0,0,0,0, 0,0,0,0,0,0,0.6,0, 0,0,0,0.2,0.4,0.3,0.5,0.4,0.6,0.8,0.6,0.9,1.2,1.8,2.4,1.6,1.0,0.8,1.4,2.2,3.0,2.0,1.4],
[0.2,0.7,1.8,0.6,0.2, 0,0,0,0,0,0,0,0, 0,0,0,0,0,0,0,0, 0,0,0,0,0,0,0,0, 0,0,0,0,0,0,0,0, 0,0,0,0.1,0.3,0.5,0.4,0.6,0.5,0.4,0.6,0.8,0.6,0.5,0.7,0.9,1.2,1.6,2.4,4.5,7.4,3.0,1.5],
[0.2,0.9,2.3,0.8,0.2, 0,0,0,0,0,0,0,0, 0,0,0,0,0,0,0,0, 0,0,0,0,0,0,0,0, 0,0,0,0,0,0,0,0, 0,0,0,0.3,0.5,0.8,1.0,0.7,0.5,0.6,0.8,0.6,0.5,0.7,0.6,0.5,0.8,1.0,1.3,0.9,0.7,0.5,0.4],
[0.1,0.6,1.5,0.5,0.1, 0,0,0,0,0,0,0,0, 0,0,0,0,0,0,0,0, 0,0,0,0,0,0,0,0, 0,0,0,0,0,0,0,0, 0,0,0,0.2,0.3,0.5,0.7,0.5,0.4,0.6,0.9,1.2,0.8,0.6,0.5,0.7,1.0,1.4,1.9,1.2,0.8,0.6,0.5],
[0.2,0.7,1.6,0.6,0.2, 0,0,0,0,0,0,0,0, 0,0,0,0,0,0,0,0, 0,0,0,0,0,0,0,0, 0,0,0,0,0,0,0,0, 0,0,0,0.1,0.2,0.3,0.4,0.3,0.5,0.6,0.4,0.3,0.5,0.4,0.3,0.5,0.6,0.8,0.5,0.4,0.3,0.5,0.6],
[0.2,0.8,1.9,0.7,0.2, 0,0,0,0,0,0,0,0, 0,0,0,0,0,0,0,0, 0,0,0,0,0,0,0,0, 0,0,0,0,0,0,0,0, 0,0,0,0.2,0.4,0.6,0.5,0.8,1.2,0.9,0.7,1.0,1.5,2.2,1.6,1.0,0.8,1.2,1.8,2.6,1.9,1.2,0.9],
[0.1,0.5,1.2,0.4,0.1, 0,0,0,0,0,0,0,0, 0,0,0,0,0,0,0,0, 0,0,0,0,0,0,0,0, 0,0,0,0,0,0,0,0, 0,0,0,0.5,1.5,3.5,7.2,2.5,1.2,0.6,0.4,0.3,0.5,0.7,0.5,0.4,0.6,0.8,0.6,0.5,0.7,0.9,0.6],
[0.2,0.8,2.0,0.7,0.2, 0,0,0,0,0,0,0,0, 0,0,0,0,0,0,0,0, 0,0,0,0,0,0,0,0, 0,0,0,0,0,0,0,0, 0,0,0,0.2,0.5,0.8,1.2,2.0,4.0,7.3,2.5,1.2,0.8,1.5,1.0,0.7,0.5,0.8,1.2,0.9,0.6,0.8,1.0],
[0.1,0.6,1.4,0.5,0.1, 0,0,0,0,0,0,0,0, 0,0,0,0,0,0,0,0, 0,0,0,0,0,0,0,0, 0,0,0,0,0,0,0,0, 0,0,0,0.1,0.2,0.4,0.3,0.5,0.4,0.3,0.5,0.6,0.4,0.5,0.7,0.5,0.4,0.6,0.8,0.6,0.5,0.4,0.3],
[0.2,0.7,1.6,0.6,0.2, 0,0,0,0,0,0,0,0, 0,0,0,0,0,0,0,1.2, 0,0,0,0,0,0,0,0, 0,0,0,0,0,0,0,0, 0.3,0.2,0,0.2,0.4,0.6,0.5,0.8,1.0,0.7,0.6,0.9,1.3,1.0,0.8,0.6,1.0,1.4,2.0,1.5,1.1,0.8,0.6],
[0.2,0.8,1.7,0.6,0.2, 0,0,0.6,0,0,0,0,0, 0,0,0,0,0,0,0,0, 0,0,0,0,0,0,0,0, 0,0,0,0,0,0,0,0, 0,0,0,0.2,0.3,0.5,0.4,0.6,0.8,0.6,0.5,0.7,0.9,0.7,0.5,0.6,0.8,1.1,1.4,1.0,0.8,0.6,0.5],
[0.1,0.6,1.5,0.5,0.1, 0,0,0,0,0,0,0,0, 0,0,0,0,0,0,0,0, 0,0,0,0,0,0,0,0, 0,0,0,0,0,0,0,0, 0,0,0,0.2,0.4,0.3,0.5,0.7,0.6,0.5,0.8,1.1,0.8,0.6,0.9,1.3,1.0,0.8,1.2,1.7,1.3,2.8,3.5],
[0.2,0.7,1.8,0.6,0.2, 0,0,0,0,0,0,0,0, 0,0,0,0,0,0,0,0, 0,0,0,0,0,0,0,0, 0,0,0,0,0,0,0,0, 0,0,0,0.2,0.4,0.6,0.5,0.7,0.9,0.7,0.5,0.6,0.8,0.6,0.5,0.7,0.9,1.5,2.5,5.1,3.0,1.5,0.9],
[0.2,0.9,2.2,0.8,0.2, 0,0,0,0,0,0,0,0, 0,0,0,0,0,0,0,0, 0,0,0,0,0,0,0,0, 0,0,0,0,0,0,0,0, 0,0,0,0.3,0.5,0.7,0.6,0.9,1.2,0.8,0.6,0.5,0.7,0.6,0.5,0.7,0.9,1.1,0.8,0.6,0.5,0.4,0.3],
[0.2,1.0,2.8,0.9,0.2, 0,0,0,0,0,0,0,0, 0,0,0,0,0,0,0,0, 1.1,0,0,0,0,0,0,0, 0,0,0,0,0,0,0,0, 0,0,0,0.1,0.2,0.3,0.5,0.4,0.3,0.4,0.6,0.5,0.4,0.3,0.5,0.7,1.0,1.5,2.0,1.4,0.9,0.6,0.4],
[0.2,0.7,1.7,0.6,0.2, 0,0,0,0,0,0,0,0, 0,0,0,0,0,0,0,0, 0,0,0,0,0,0,0,0, 0,0,0,0,0,0,0,0, 0,0,0,0.3,0.8,2.5,5.0,10.5,4.0,1.5,0.8,0.6,0.5,0.7,0.5,0.4,0.6,0.8,1.0,0.7,0.5,0.4,0.3],
[0.1,0.8,1.5,2.0,0.3, 0,0,0,0,0,0,0,0, 0,0,0,0,0,0,0,0, 0,0,0,0,0,0,0,0, 0,0,0,0,0,0,0,0, 0,0,0,0.1,0.2,0.4,0.3,0.5,0.4,0.3,0.5,0.7,0.5,0.4,0.6,0.5,0.4,0.6,0.8,1.0,0.7,0.5,0.4],
[0.2,0.7,1.6,0.6,0.2, 0,0,0,0,0,0,0,0, 0,0,0,0,0,0,0,0, 0,0,0,0.9,0,0,0,0, 0,0,0,0,0,0,0,0, 0,0,0,0.2,0.4,0.6,0.5,0.8,1.0,1.2,1.6,2.0,2.5,3.5,6.0,8.6,7.8,8.1,4.4,2.0,1.2,0.8,0.6]
];

const leftTicks = [-30,45];   // visible left tick range (°C)
const rightTicks = [0,75];    // visible right tick range (mm)

// ---- build ----
const cats = [];
days.forEach(d => runs.forEach(r => { if (cats.length < 61) cats.push(d + ' ' + r); }));
const F = '"DejaVu Sans Mono", monospace';
const plus = 'path://M2,0H3V2H5V3H3V5H2V3H0V2H2Z';
const withGap = arr => [null].concat(arr);

const series = [];
series.push({
  type:'line', name:'_grid', xAxisIndex:0, yAxisIndex:0, data:[], silent:true, z:1,
  markLine:{silent:true, animation:false, symbol:['none','none'], label:{show:false},
    data:[-30,-20,-10,10,20,30,40].map(v=>({yAxis:v, lineStyle:{color:'#c0c0c0', width:2, type:'solid'}}))
      .concat([{yAxis:0, lineStyle:{color:'#9a9a9a', width:3, type:'solid'}}])}
});
tempMembers.forEach((d,m) => {
  const c = memberColors[m];
  series.push({type:'line', name:'T'+(m+1), xAxisIndex:0, yAxisIndex:0, data:d, symbol:plus, symbolSize:5, showAllSymbol:true,
    lineStyle:{width:1, color:c}, itemStyle:{color:c}, z:2, silent:true});
  series.push({type:'line', name:'P'+(m+1), xAxisIndex:0, yAxisIndex:1, data:withGap(precipMembers[m]), symbol:plus, symbolSize:5, showAllSymbol:true,
    lineStyle:{width:1, color:c}, itemStyle:{color:c}, z:2, silent:true});
});
const thick = (name, data, yi, color, w, z) => ({type:'line', name, xAxisIndex:0, yAxisIndex:yi, data, showSymbol:false, symbol:'none',
  lineStyle:{width:w, color}, itemStyle:{color}, z, silent:true});
series.push(thick('Run de contrôle', ctrlTemp, 0, '#0000ff', 3.5, 3));
series.push(thick('Run de contrôle', withGap(ctrlPrecip), 1, '#0000ff', 3.5, 3));
series.push(thick('Run CEP/ECMWF', mainTemp, 0, '#000000', 3.5, 4));
series.push(thick('Run CEP/ECMWF', withGap(mainPrecip), 1, '#000000', 3.5, 4));
series.push(thick('Moyenne des scénarios', meanTemp, 0, '#ff0000', 4.5, 5));
series.push(thick('Moyenne des scénarios', withGap(meanPrecip), 1, '#ff0000', 4.5, 5));

const txt = (text, x, y, size, opts) => ({type:'text', x, y, silent:true,
  style:Object.assign({text, font: (opts && opts.bold ? 'bold ' : '') + size + 'px ' + F, fill:'#000', verticalAlign:'middle', align:'left'}, opts && opts.style)});
const graphics = [
  txt('(°C)', 20, 606, 10),
  txt('(mm)', 710, 607, 10),
  txt('Temp. 2m', 60, 250, 10),
  txt('Précipitations', 59, 503, 10),
  txt('50 Perts.', 370, 652, 10),
  {type:'rect', silent:true, shape:{x:20.5, y:667.5, width:420, height:40}, style:{fill:'none', stroke:'#000', lineWidth:1.5}},
  txt('Diagramme ensembles ECMWF/CEP 0.4° sur 360h pour Paris', 30, 677, 11.5, {bold:true}),
  txt('Températures 2m (°C) , précipitations (mm)', 30, 691, 10),
  txt('Ensemble ECMWF/CEP du 04/01/2024 - 00Z', 449, 676, 10),
  txt('Copyright 2024 Meteociel.fr - ECMWF', 449, 692, 11.5, {bold:true})
];
for (let k = 0; k < 25; k++) {
  const x = 430 + 11 * k;
  graphics.push({type:'rect', silent:true, shape:{x, y:645, width:10, height:6}, style:{fill:memberColors[k]}});
  graphics.push({type:'rect', silent:true, shape:{x, y:651, width:10, height:7}, style:{fill:memberColors[k+25]}});
  graphics.push(txt(String(k+1).padStart(2,'0'), x+5, 639.5, 7.5, {bold:true, style:{align:'center'}}));
  graphics.push(txt(String(k+26), x+5, 663, 7.5, {bold:true, style:{align:'center'}}));
}

const legendBase = {orient:'horizontal', padding:0, itemWidth:31, itemHeight:4, icon:'rect', selectedMode:false,
  textStyle:{fontFamily:F, fontSize:10, color:'#000', padding:[0,0,0,4]}};

const chart = echarts.init(document.getElementById('c'), null, {renderer:'canvas'});
chart.setOption({
  animation:false,
  backgroundColor:'#fff',
  grid:[{left:50, top:21, width:640, height:560}, {left:50, top:0, width:640, height:600}],
  xAxis:[
    {gridIndex:0, type:'category', data:cats, boundaryGap:false, show:false},
    {gridIndex:1, type:'category', data:cats, boundaryGap:false,
      axisLine:{show:true, lineStyle:{color:'#000', width:1}}, axisTick:{show:false},
      splitLine:{show:true, interval:3, lineStyle:{color:'#c0c0c0', width:1}},
      axisLabel:{interval:3, rotate:90, margin:2, fontFamily:F, fontSize:10, color:'#000', verticalAlign:'top', lineHeight:14,
        formatter: v => v.slice(0,5)}}
  ],
  yAxis:[
    {gridIndex:0, type:'value', min:-35, max:45, interval:5, position:'left',
      axisLine:{show:false}, axisTick:{show:false},
      splitLine:{show:true, lineStyle:{color:['rgba(0,0,0,0)'].concat(new Array(16).fill('#c0c0c0')), width:1}},
      axisLabel:{margin:19, fontFamily:F, fontSize:10, color:'#000', formatter: v => (v < leftTicks[0] || v > leftTicks[1]) ? '' : String(v)}},
    {gridIndex:0, type:'value', min:-5, max:75, interval:5, position:'right',
      axisLine:{show:false}, axisTick:{show:false}, splitLine:{show:false},
      axisLabel:{margin:20, fontFamily:F, fontSize:10, color:'#000', formatter: v => (v < rightTicks[0] || v > rightTicks[1]) ? '' : String(v)}},
    {gridIndex:1, type:'value', min:0, max:1, show:false}
  ],
  legend:[
    Object.assign({}, legendBase, {left:35, top:631, data:['Moyenne des scénarios']}),
    Object.assign({}, legendBase, {left:225, top:631, data:['Run de contrôle']}),
    Object.assign({}, legendBase, {left:225, top:641, data:['Run CEP/ECMWF']})
  ],
  graphic:graphics,
  series
});
</script></body></html>
